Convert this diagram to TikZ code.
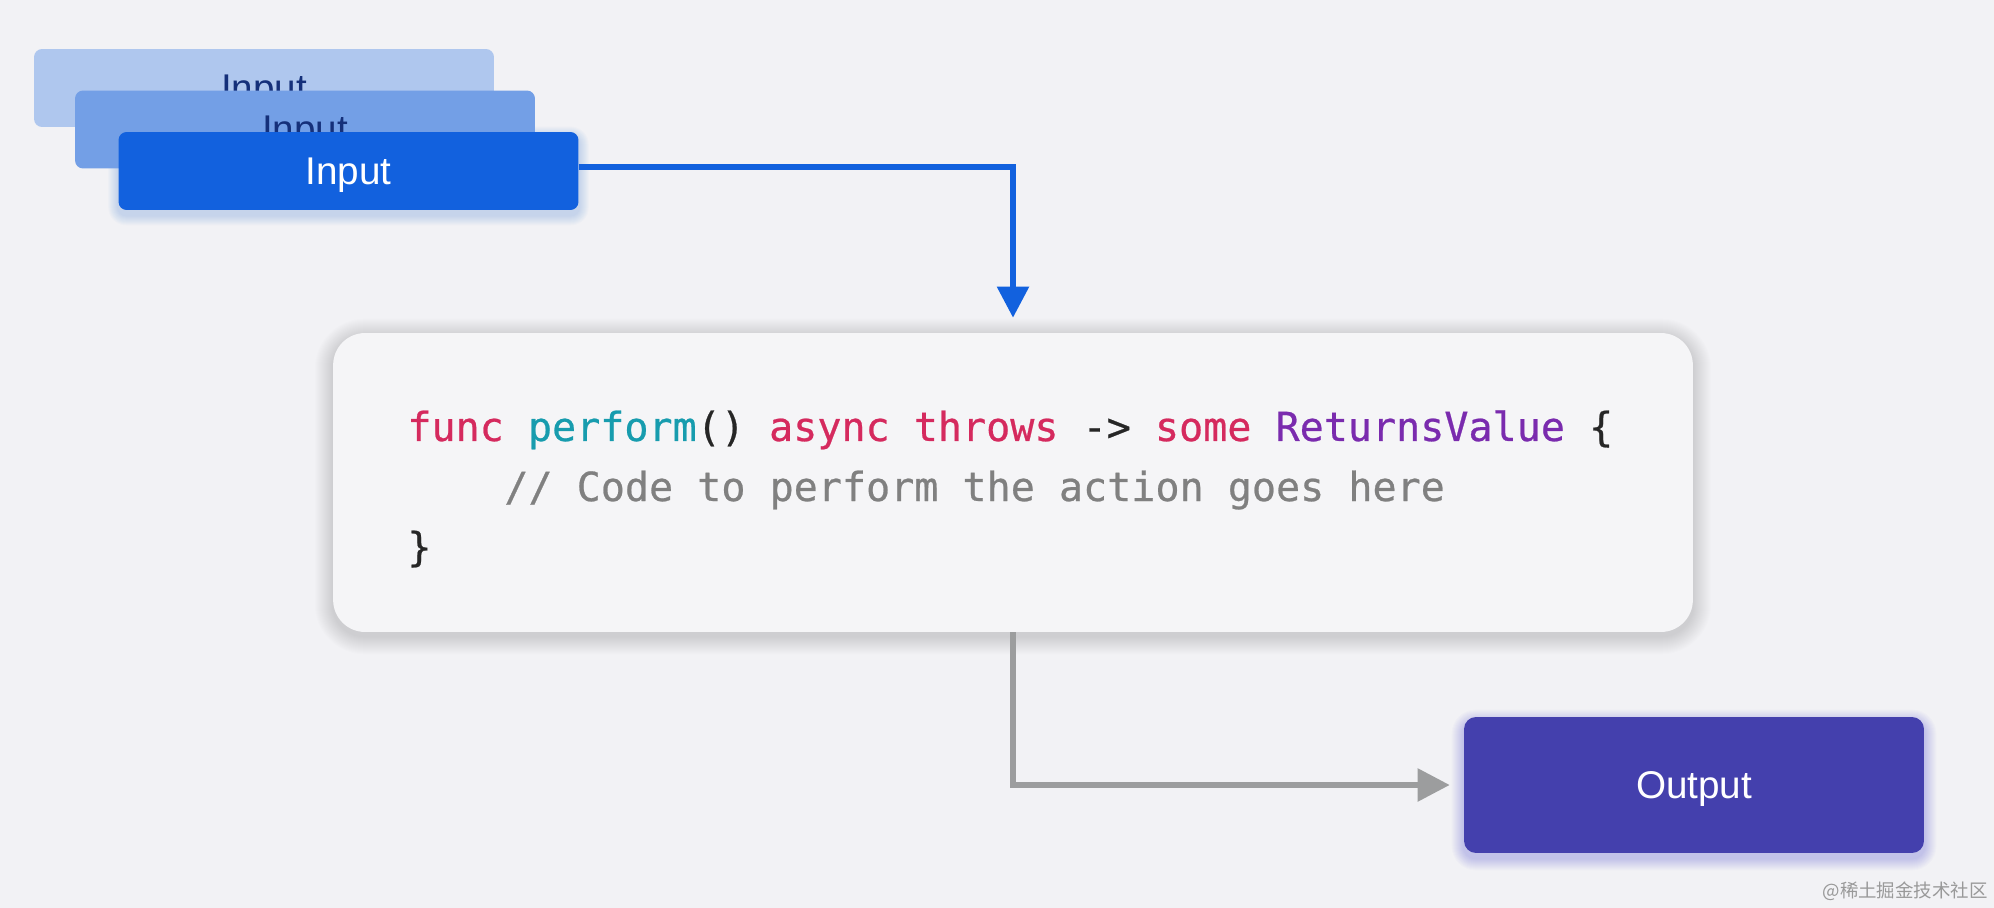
\documentclass[tikz,border=0pt]{standalone}
\usepackage{fontspec}
\setmainfont{Liberation Sans}
\newfontfamily\codefont[FakeBold=0.6]{DejaVu Sans Mono}
\newfontfamily\cjkfont{Noto Sans CJK SC}
\usetikzlibrary{arrows.meta,calc,backgrounds}

\definecolor{bgcol}{HTML}{F2F2F5}
\definecolor{inpale}{HTML}{AFC7EE}
\definecolor{inmid}{HTML}{739FE6}
\definecolor{inblue}{HTML}{1261DE}
\definecolor{intext}{HTML}{15307A}
\definecolor{outcol}{HTML}{4440AD}
\definecolor{codebg}{HTML}{F5F5F7}
\definecolor{kwcol}{HTML}{D52A5E}
\definecolor{fncol}{HTML}{179CAE}
\definecolor{tycol}{HTML}{7A2BAE}
\definecolor{cmcol}{HTML}{808080}
\definecolor{pncol}{HTML}{262626}
\definecolor{flowgray}{HTML}{9C9D9E}

\tikzset{
  inbox/.style={rounded corners=0.16cm, minimum width=9.2cm, minimum height=1.56cm,
    inner sep=0pt, text depth=0pt, font=\fontsize{22}{26}\selectfont},
  codeline/.style={anchor=base west, inner sep=0pt, font=\codefont\fontsize{22.8}{30}\selectfont},
  flow/.style={line width=0.11cm, line join=miter},
}

\begin{document}
\begin{tikzpicture}[x=0.02cm, y=-0.02cm]
	\useasboundingbox (0,0) rectangle (1994,908);
	% input stack
	\node[inbox, fill=inpale, text=intext] (in1) at (264,88) {Input};
	\node[inbox, fill=inmid, text=intext] (in2) at (305,129.5) {Input};
	\node[inbox, fill=inblue, text=white] (in3) at (348.5,171) {Input};
	% code box
	\node[fill=codebg, rounded corners=0.64cm, minimum width=27.2cm, minimum height=5.98cm, inner sep=0pt] (code) at (1013,482.5) {};
	\node[codeline] (line1) at (407,441) {\color{kwcol}func \color{fncol}perform\color{pncol}() \color{kwcol}async throws \color{pncol}-> \color{kwcol}some \color{tycol}ReturnsValue \color{pncol}\{};
	\node[codeline, text=cmcol] (line2) at (504,501) {// Code to perform the action goes here};
	\node[codeline, text=pncol] (line3) at (407,561) {\}};
	% output
	\node[fill=outcol, text=white, rounded corners=0.24cm, minimum width=9.2cm, minimum height=2.72cm, inner sep=0pt, text depth=0pt, font=\fontsize{22}{26}\selectfont] (out) at (1694,785) {Output};
	% connectors
	\draw[flow, inblue, shorten >=0.3cm, -{Triangle[length=0.62cm, width=0.62cm]}] ([yshift=0.08cm]in3.east) -| (code.north);
	\draw[flow, flowgray, shorten >=0.28cm, -{Triangle[length=0.64cm, width=0.64cm]}] (code.south) |- (out.west);
	\node[font=\cjkfont\fontsize{10.5}{12}\selectfont, text=gray!80, anchor=east, inner sep=0pt] (mark) at (1988,891) {@稀土掘金技术社区};
	% background and soft shadows
	\begin{pgfonlayer}{background}
	\fill[bgcol] (0,0) rectangle (1994,908);
	\foreach \g in {1,...,18}
	\fill[black, opacity=0.007, rounded corners=(32+\g)*0.02cm] ($(code.south west)+(-\g,\g+4)$) rectangle ($(code.north east)+(\g,-\g+4)$);
	\foreach \g in {1,...,10}
	\fill[inblue, opacity=0.02, rounded corners=(8+\g)*0.02cm] ($(in3.south west)+(-\g,\g+5)$) rectangle ($(in3.north east)+(\g,-\g+5)$);
	\foreach \g in {1,...,12}
	\fill[outcol!60!blue, opacity=0.02, rounded corners=(12+\g)*0.02cm] ($(out.south west)+(-\g,\g+5)$) rectangle ($(out.north east)+(\g,-\g+5)$);
	\end{pgfonlayer}
\end{tikzpicture}
\end{document}
